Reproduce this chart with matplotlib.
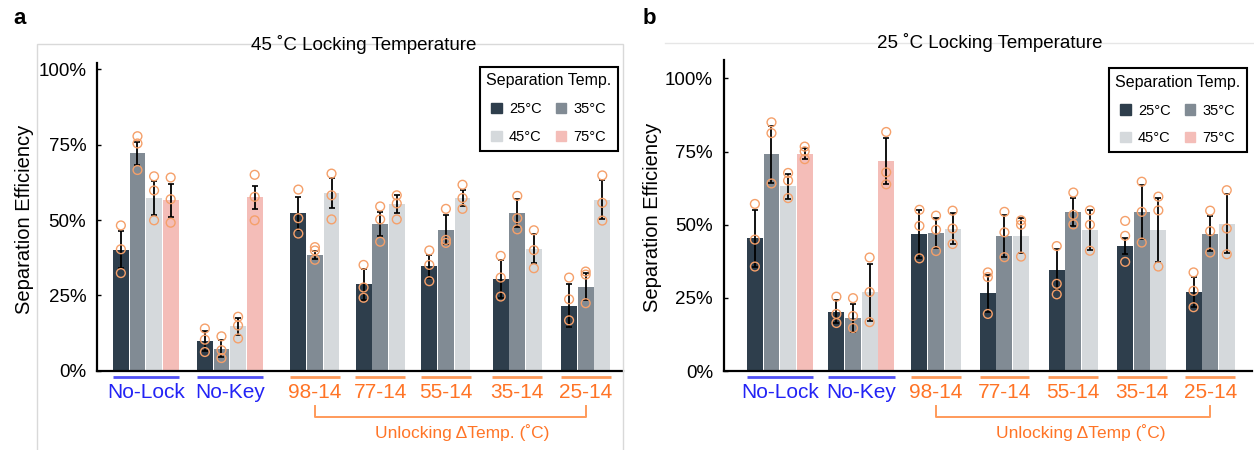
import numpy as np
import matplotlib
matplotlib.use("Agg")
import matplotlib.pyplot as plt
import matplotlib.transforms as mtransforms
from matplotlib.patches import Patch, Rectangle
from matplotlib.lines import Line2D

plt.rcParams['font.family'] = ['Liberation Sans', 'DejaVu Sans']

# Groups and separation temperatures
groups = ["No-Lock", "No-Key", "98-14", "77-14", "55-14", "35-14", "25-14"]
temps = ["25°C", "35°C", "45°C", "75°C"]

# Panel a: 45 C locking temperature (values in %)
a_mean_25 = [40.2, 10.0, 52.3, 28.7, 34.7, 30.4, 21.6]
a_mean_35 = [72.1, 7.3, 38.4, 48.6, 46.8, 52.3, 27.9]
a_mean_45 = [57.3, 14.7, 59.1, 55.3, 57.4, 40.4, 56.8]
a_mean_75 = [56.5, 57.5]
a_err_25 = [6.0, 3.3, 5.5, 5.2, 3.8, 6.3, 7.2]
a_err_35 = [3.9, 2.8, 1.4, 3.9, 4.8, 4.7, 4.6]
a_err_45 = [5.7, 2.8, 5.0, 3.1, 2.7, 4.8, 6.5]
a_err_75 = [5.6, 3.9]
a_pts_25 = [[48.2, 40.3, 32.4], [14.0, 10.3, 6.2], [60.1, 50.6, 45.5], [35.1, 27.6, 24.2],
            [39.9, 35.1, 29.7], [38.1, 30.9, 24.6], [30.9, 23.7, 16.7]]
a_pts_35 = [[77.8, 75.4, 66.6], [11.4, 6.8, 4.2], [41.0, 39.9, 36.8], [54.5, 50.2, 42.8],
            [53.7, 43.4, 42.4], [58.0, 50.6, 46.9], [32.9, 31.9, 22.4]]
a_pts_45 = [[64.5, 59.8, 49.9], [17.9, 15.0, 10.7], [65.4, 58.2, 50.2], [58.2, 55.5, 50.2],
            [61.7, 57.3, 53.7], [46.6, 40.0, 34.0], [64.8, 55.7, 49.8]]
a_pts_75 = [[64.1, 56.9, 49.1], [65.0, 57.7, 49.9]]

# Panel b: 25 C locking temperature (values in %)
b_mean_25 = [45.3, 20.3, 46.9, 26.5, 34.6, 42.6, 27.1]
b_mean_35 = [74.0, 18.2, 47.1, 46.2, 54.4, 54.4, 46.9]
b_mean_45 = [63.1, 26.9, 48.7, 46.2, 48.3, 48.1, 50.4]
b_mean_75 = [74.2, 71.8]
b_err_25 = [9.6, 3.8, 8.3, 6.3, 7.0, 2.7, 5.1]
b_err_35 = [9.8, 4.7, 5.1, 7.1, 4.8, 9.3, 6.0]
b_err_45 = [4.3, 9.8, 5.4, 6.0, 6.9, 10.9, 10.0]
b_err_75 = [1.9, 7.9]
b_pts_25 = [[57.1, 44.9, 35.7], [25.4, 19.5, 16.4], [55.1, 49.6, 38.5], [33.7, 32.1, 19.5],
            [42.7, 29.8, 26.2], [51.3, 46.2, 37.3], [33.7, 27.4, 21.8]]
b_pts_35 = [[85.0, 81.3, 64.1], [24.9, 18.8, 14.7], [53.1, 48.3, 41.0], [54.4, 47.4, 38.9],
            [61.0, 53.4, 50.1], [64.7, 54.4, 43.9], [54.8, 47.8, 40.5]]
b_pts_45 = [[67.7, 65.1, 59.1], [38.8, 27.0, 16.7], [54.8, 48.7, 43.4], [51.5, 50.0, 39.1],
            [54.9, 50.0, 41.1], [59.6, 54.9, 35.7], [61.8, 48.7, 39.9]]
b_pts_75 = [[76.7, 75.1, 72.4], [81.7, 67.9, 63.8]]

# Styles
bar_colors = ["#2e3e4c", "#818b94", "#d5d9dc", "#f4bdb8"]
dot_color = "#f5a06a"
blue = "#2323f5"
blue_line = "#5050f5"
orange = "#ff7426"
orange_line = "#ff9a5a"

W, H = 1254, 450
fig = plt.figure(figsize=(W / 100, H / 100), dpi=100)


def fy(px):
    # pixel row -> figure fraction
    return 1 - px / H


def draw_panel(ax, means, errs, pts, centers, xmax, ymax, legend_anchor):
    for t in range(4):
        for g in range(len(means[t])):
            n = 4 if g < 2 else 3
            x = centers[g] + (t - (n - 1) / 2)
            ax.bar(x, means[t][g], width=0.96, color=bar_colors[t], zorder=1)
            ax.errorbar(x, means[t][g], yerr=errs[t][g], color="black", lw=1.3,
                        capsize=2, capthick=1.2, zorder=2)
            ax.scatter([x] * 3, pts[t][g], s=40, facecolors="none",
                       edgecolors=dot_color, linewidths=1.0, zorder=3)

    ax.set_xlim(0, xmax)
    ax.set_ylim(0, ymax)
    ax.set_xticks([])
    ax.set_yticks([0, 25, 50, 75, 100])
    ax.set_yticklabels(["0%", "25%", "50%", "75%", "100%"])
    ax.tick_params(axis="y", direction="in", length=3, width=1, pad=8, labelsize=13.5)
    for s in ["top", "right"]:
        ax.spines[s].set_visible(False)
    ax.spines["left"].set_linewidth(1.6)
    ax.spines["bottom"].set_linewidth(1.6)

    # group labels, underlines and bracket below the axis
    trans = mtransforms.blended_transform_factory(ax.transData, fig.transFigure)
    for g, name in enumerate(groups):
        n = 4 if g < 2 else 3
        txt_c = blue if g < 2 else orange
        line_c = blue_line if g < 2 else orange_line
        ax.plot([centers[g] - n / 2, centers[g] + n / 2], [fy(377)] * 2, color=line_c,
                lw=2, transform=trans, clip_on=False, solid_capstyle="butt")
        ax.text(centers[g], fy(392), name, color=txt_c, fontsize=15, ha="center",
                va="center", transform=trans)
    ax.plot([centers[2], centers[2], centers[6], centers[6]],
            [fy(406), fy(416.5), fy(416.5), fy(406)], color=orange_line, lw=1.4,
            transform=trans, clip_on=False)

    handles = [Patch(color=bar_colors[i]) for i in [0, 2, 1, 3]]
    labels = [temps[i] for i in [0, 2, 1, 3]]
    leg = ax.legend(handles, labels, ncol=2, title="Separation Temp.", loc="upper right",
                    bbox_to_anchor=legend_anchor, borderaxespad=0, fontsize=10.5,
                    title_fontsize=11.5, fancybox=False, edgecolor="black", framealpha=1,
                    handlelength=0.7, handleheight=0.7, handletextpad=0.5,
                    columnspacing=1.0, labelspacing=0.95, borderpad=0.45)
    leg.get_frame().set_linewidth(1.5)


# Panel a
ax_a = fig.add_axes([97.3 / W, fy(370.7), (622.7 - 97.3) / W, (370.7 - 63.3) / H])
fig.add_artist(Rectangle((37.3 / W, -0.01), (622.7 - 37.3) / W, fy(44.3) + 0.01,
                         transform=fig.transFigure, fill=False, ec="#d9d9d9", lw=1))
draw_panel(ax_a,
           [a_mean_25, a_mean_35, a_mean_45, a_mean_75],
           [a_err_25, a_err_35, a_err_45, a_err_75],
           [a_pts_25, a_pts_35, a_pts_45, a_pts_75],
           [2.92, 7.98, 13.11, 17.04, 21.0, 25.3, 29.42], 31.65, 102, (0.991, 0.989))
fig.text(364 / W, fy(45), "45 ˚C Locking Temperature", fontsize=13.5, ha="center", va="center")
fig.text(25 / W, fy(219), "Separation Efficiency", fontsize=14.5, rotation=90,
         ha="center", va="center")
fig.text(462 / W, fy(433), "Unlocking ΔTemp. (˚C)", fontsize=12.5, color=orange,
         ha="center", va="center")
fig.text(13 / W, fy(18), "a", fontsize=16, fontweight="bold", ha="left", va="center")

# Panel b
ax_b = fig.add_axes([724 / W, fy(371), (1252 - 724) / W, (371 - 60) / H])
fig.add_artist(Line2D([665 / W, 1.0], [fy(42.7)] * 2, transform=fig.transFigure,
                      color="#e6e6e6", lw=1))
draw_panel(ax_b,
           [b_mean_25, b_mean_35, b_mean_45, b_mean_75],
           [b_err_25, b_err_35, b_err_45, b_err_75],
           [b_pts_25, b_pts_35, b_pts_45, b_pts_75],
           [3.36, 8.27, 12.77, 16.89, 21.04, 25.16, 29.28], 31.8, 106.3, (0.9905, 0.974))
fig.text(990 / W, fy(43), "25 ˚C Locking Temperature", fontsize=13.5, ha="center", va="center")
fig.text(653 / W, fy(217), "Separation Efficiency", fontsize=14.5, rotation=90,
         ha="center", va="center")
fig.text(1081 / W, fy(433), "Unlocking ΔTemp (˚C)", fontsize=12.5, color=orange,
         ha="center", va="center")
fig.text(643 / W, fy(18), "b", fontsize=16, fontweight="bold", ha="left", va="center")

fig.savefig("out.png", dpi=100)
